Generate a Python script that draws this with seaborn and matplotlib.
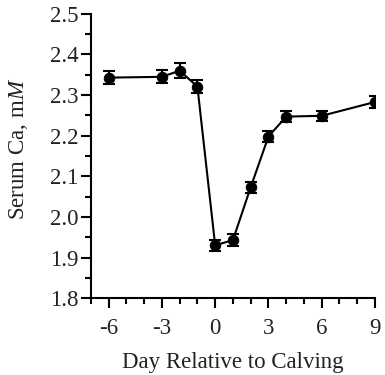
import matplotlib
matplotlib.use("Agg")
import matplotlib.pyplot as plt
from matplotlib.ticker import MultipleLocator
import seaborn as sns
import pandas as pd

# Serum calcium around calving (mean ± SEM)
days = [-6, -3, -2, -1, 0, 1, 2, 3, 4, 6, 9]
serum_ca = [2.343, 2.345, 2.360, 2.321, 1.930, 1.943, 2.073, 2.198, 2.247, 2.249, 2.283]
sem = [0.016, 0.016, 0.018, 0.016, 0.014, 0.014, 0.013, 0.013, 0.014, 0.013, 0.015]
x_ticks = [-6, -3, 0, 3, 6, 9]
y_ticks = [1.8, 1.9, 2.0, 2.1, 2.2, 2.3, 2.4, 2.5]

df = pd.DataFrame({"day": days, "ca": serum_ca, "sem": sem})

sns.set_style("ticks")
plt.rcParams["font.family"] = ["Liberation Serif", "DejaVu Serif"]
plt.rcParams["mathtext.fontset"] = "custom"
plt.rcParams["mathtext.it"] = "Liberation Serif:italic"
plt.rcParams["mathtext.rm"] = "Liberation Serif"

fig = plt.figure(figsize=(3.85, 3.75), dpi=100)
ax = fig.add_axes([0.236, 0.205, 0.738, 0.758])

ax.errorbar(df["day"], df["ca"], yerr=df["sem"], fmt="none", ecolor="black",
            elinewidth=1.5, capsize=4, capthick=1.5, zorder=2)
sns.lineplot(data=df, x="day", y="ca", ax=ax, color="black", linewidth=1.5,
             marker="o", markersize=7.5, markeredgecolor="black", zorder=3)

ax.set_xlim(-7, 9)
ax.set_ylim(1.8, 2.5)
ax.set_xticks(x_ticks)
ax.set_xticklabels([str(t) for t in x_ticks])
ax.set_yticks(y_ticks)
ax.set_yticklabels([f"{t:.1f}" for t in y_ticks])
ax.xaxis.set_minor_locator(MultipleLocator(1))
ax.yaxis.set_minor_locator(MultipleLocator(0.05))

for side in ("top", "right"):
    ax.spines[side].set_visible(False)
for side in ("left", "bottom"):
    ax.spines[side].set_linewidth(1.5)
    ax.spines[side].set_color("black")

ax.tick_params(which="major", length=7, width=1.5, color="black",
               labelsize=16.5, labelcolor="#222222")
ax.tick_params(which="minor", length=4, width=1.5, color="black")
ax.tick_params(axis="x", which="major", pad=7)
ax.tick_params(axis="y", which="major", pad=2)

ax.set_xlabel("Day Relative to Calving", fontsize=16.5, color="#222222", labelpad=10)
ax.set_ylabel(r"Serum Ca, m$\mathit{M}$", fontsize=16.5, color="#222222")
ax.yaxis.set_label_coords(-0.215, 0.525)

fig.savefig("out.png", dpi=100)
